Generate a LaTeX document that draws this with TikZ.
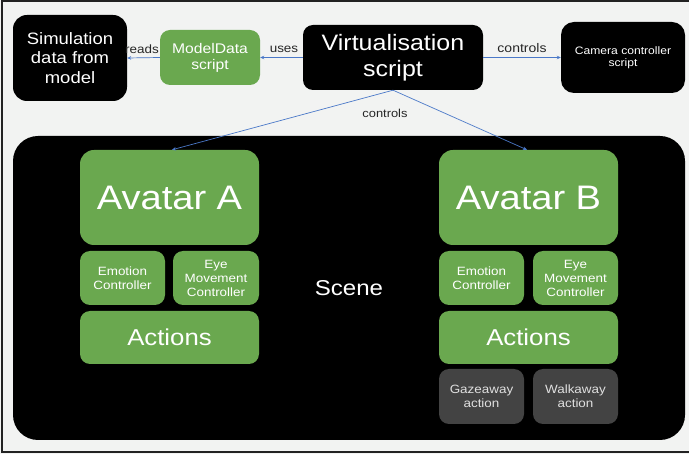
\documentclass[tikz,border=0pt]{standalone}
\usepackage{fontspec}
\setmainfont{Liberation Sans}[FakeStretch=1.12]
\usetikzlibrary{arrows.meta}

\definecolor{pagebg}{HTML}{F2F3F2}
\definecolor{framec}{HTML}{222222}
\definecolor{boxgreen}{HTML}{6AA84F}
\definecolor{boxgrey}{HTML}{434343}
\definecolor{linkblue}{HTML}{4A78C8}

\newcommand{\fs}[2]{\fontsize{#1}{#2}\selectfont}

\tikzset{
  blackbox/.style={fill=black, text=white, rounded corners=#1, inner sep=0pt, align=center},
  greenbox/.style={fill=boxgreen, text=white, rounded corners=10pt, inner sep=0pt, align=center},
  greybox/.style={fill=boxgrey, text=white!88!black, rounded corners=10pt, inner sep=0pt, align=center},
  link/.style={draw=linkblue, line width=0.7pt, -{Stealth[length=4pt,width=3.5pt]}},
  linklabel/.style={text=black!85, inner sep=0pt, font=\fs{12}{14}},
}

\begin{document}
\begin{tikzpicture}[x=1pt, y=-1pt]
  % page background and frame
  \fill[pagebg] (0,0) rectangle (689,454);
  \useasboundingbox (0,0) rectangle (689,454);
  \draw[framec, line width=2pt] (689,1) -- (1.5,1) -- (1.5,452.5) -- (689,452.5);

  % top row
  \node[blackbox=14pt, minimum width=114pt, minimum height=86pt, font=\fs{16.5}{19.5}]
    (sim) at (70,58) {Simulation\\data from\\model};
  \node[greenbox, minimum width=100pt, minimum height=55pt, font=\fs{14}{16}]
    (mds) at (210,57.5) {ModelData\\script};
  \node[blackbox=10pt, minimum width=180pt, minimum height=65pt, font=\fs{22.3}{26}]
    (virt) at (393,57.5) {Virtualisation\\script};
  \node[blackbox=13pt, minimum width=124pt, minimum height=71pt, font=\fs{10.8}{12}]
    (cam) at (623,57.5) {Camera controller\\script};

  % scene container
  \node[blackbox=25pt, minimum width=672pt, minimum height=304pt] (scene) at (349,288) {};
  \node[text=white, inner sep=0pt, font=\fs{21.5}{24}] (scenelbl) at (349,288) {Scene};

  % avatar A
  \node[greenbox, rounded corners=14pt, minimum width=179pt, minimum height=95pt, font=\fs{34}{38}]
    (avA) at (169.5,197.5) {Avatar A};
  \node[greenbox, minimum width=85pt, minimum height=54pt, font=\fs{12}{14}]
    (emoA) at (122.5,278) {Emotion\\Controller};
  \node[greenbox, minimum width=86pt, minimum height=54pt, font=\fs{12}{14}]
    (eyeA) at (216,278) {Eye\\Movement\\Controller};
  \node[greenbox, minimum width=179pt, minimum height=53pt, font=\fs{23}{26}]
    (actA) at (169.5,337.5) {Actions};

  % avatar B
  \node[greenbox, rounded corners=14pt, minimum width=179pt, minimum height=95pt, font=\fs{34}{38}]
    (avB) at (528.5,197.5) {Avatar B};
  \node[greenbox, minimum width=85pt, minimum height=54pt, font=\fs{12}{14}]
    (emoB) at (481.5,278) {Emotion\\Controller};
  \node[greenbox, minimum width=85pt, minimum height=54pt, font=\fs{12}{14}]
    (eyeB) at (575.5,278) {Eye\\Movement\\Controller};
  \node[greenbox, minimum width=179pt, minimum height=53pt, font=\fs{23}{26}]
    (actB) at (528.5,337.5) {Actions};
  \node[greybox, minimum width=85pt, minimum height=55pt, font=\fs{12}{14}]
    (gaze) at (481.5,396.5) {Gazeaway\\action};
  \node[greybox, minimum width=85pt, minimum height=55pt, font=\fs{12}{14}]
    (walk) at (575.5,396.5) {Walkaway\\action};

  % connectors
  \draw[link] (mds.west) -- (sim.east);
  \draw[link] (virt.west) -- (mds.east);
  \draw[link] (virt.east) -- (cam.west);
  \draw[link] (virt.south) -- ([xshift=2.5pt]avA.north);
  \draw[link] (virt.south) -- ([xshift=-1.5pt]avB.north);

  % connector labels
  \node[linklabel] (lreads) at (142,49) {reads};
  \node[linklabel] (luses) at (284,49) {uses};
  \node[linklabel, font=\fs{12.5}{14}] (lcam) at (522,48.5) {controls};
  \node[linklabel, font=\fs{11.5}{14}] (lav) at (385,113) {controls};
\end{tikzpicture}
\end{document}
